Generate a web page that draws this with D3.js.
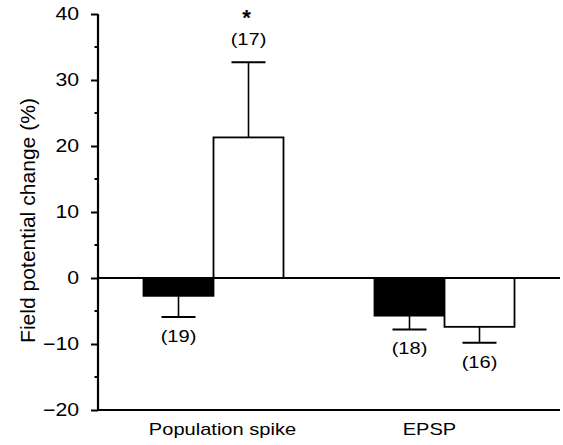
<!DOCTYPE html>
<html>
<head>
<meta charset="utf-8">
<script src="https://d3js.org/d3.v7.min.js"></script>
<style>
  body { margin: 0; background: #fff; }
  text { font-family: "Liberation Sans", Arial, Helvetica, sans-serif; fill: #000; }
</style>
</head>
<body>
<script>
// data
var categories = ["Population spike", "EPSP"];
var series = ["control", "treated"];
var controlMean = [-2.7, -5.7];
var controlErr = [3.2, 2.1];
var controlN = [19, 18];
var treatedMean = [21.3, -7.4];
var treatedErr = [11.4, 2.4];
var treatedN = [17, 16];
var significant = [true, false]; // asterisk over treated bar
var yTicks = [-20, -10, 0, 10, 20, 30, 40];
var yMinor = [-15, -5, 5, 15, 25, 35];

var W = 563, H = 445;
var plotLeft = 98, plotRight = 560, plotTop = 14, plotBottom = 410;
var stretch = 1.18; // figure text looks wide

var rows = [];
categories.forEach(function(c, i) {
  rows.push({cat: c, s: "control", v: controlMean[i], e: controlErr[i], n: controlN[i], star: false});
  rows.push({cat: c, s: "treated", v: treatedMean[i], e: treatedErr[i], n: treatedN[i], star: significant[i]});
});

var svg = d3.select("body").append("svg")
  .attr("width", W).attr("height", H);

var x = d3.scalePoint().domain(categories).range([plotLeft, plotRight]).padding(0.5);
var xs = d3.scaleBand().domain(series).range([-70, 70]);
var y = d3.scaleLinear().domain([-20, 40]).range([plotBottom, plotTop]);

// bars
var g = svg.append("g");
g.selectAll("rect").data(rows).enter().append("rect")
  .attr("x", d => x(d.cat) + xs(d.s))
  .attr("width", xs.bandwidth())
  .attr("y", d => Math.min(y(d.v), y(0)))
  .attr("height", d => Math.abs(y(d.v) - y(0)))
  .attr("fill", d => d.s == "control" ? "#000" : "#fff")
  .attr("stroke", "#000").attr("stroke-width", 1.8);

// error bars (one-sided, away from zero)
var tip = d => d.v >= 0 ? d.v + d.e : d.v - d.e;
var cx = d => x(d.cat) + xs(d.s) + xs.bandwidth() / 2;
g.selectAll(".err").data(rows).enter().append("line")
  .attr("x1", cx).attr("x2", cx)
  .attr("y1", d => y(d.v)).attr("y2", d => y(tip(d)))
  .attr("stroke", "#000").attr("stroke-width", 1.6);
g.selectAll(".cap").data(rows).enter().append("line")
  .attr("x1", d => cx(d) - 17).attr("x2", d => cx(d) + 17)
  .attr("y1", d => y(tip(d))).attr("y2", d => y(tip(d)))
  .attr("stroke", "#000").attr("stroke-width", 2);

// n labels
g.selectAll(".n").data(rows).enter().append("text")
  .attr("class", "h")
  .attr("x", cx)
  .attr("y", d => d.v >= 0 ? y(tip(d)) - 17 : y(tip(d)) + 25)
  .attr("text-anchor", "middle")
  .style("font-size", "17px")
  .text(d => "(" + d.n + ")");

g.selectAll(".star").data(rows.filter(d => d.star)).enter().append("text")
  .attr("x", d => cx(d) - 2)
  .attr("y", d => y(tip(d)) - 37)
  .attr("text-anchor", "middle")
  .style("font-size", "22px").style("font-weight", "bold")
  .text("*");

// zero line
svg.append("line")
  .attr("x1", plotLeft).attr("x2", plotRight)
  .attr("y1", y(0)).attr("y2", y(0))
  .attr("stroke", "#000").attr("stroke-width", 2);

// y axis
var yAxis = svg.append("g")
  .attr("transform", "translate(" + plotLeft + ",0)")
  .call(d3.axisLeft(y).tickValues(yTicks).tickSize(7).tickPadding(12));
yAxis.select(".domain").remove();
yAxis.selectAll(".tick line").attr("stroke-width", 2);
yAxis.selectAll(".tick text").attr("class", "h")
  .style("font-size", "18px").attr("font-family", null);
yAxis.selectAll(".minor").data(yMinor).enter().append("line")
  .attr("x1", -3.5).attr("x2", 0)
  .attr("y1", d => y(d)).attr("y2", d => y(d))
  .attr("stroke", "#000").attr("stroke-width", 2);

svg.append("path")
  .attr("d", "M" + plotLeft + "," + y(40) + "V" + plotBottom + "H" + plotRight)
  .attr("fill", "none").attr("stroke", "#000").attr("stroke-width", 2.2);

// x category labels
var labelShift = [9, -15];
svg.selectAll(".cat").data(categories).enter().append("text")
  .attr("class", "h")
  .attr("x", (d, i) => x(d) + labelShift[i])
  .attr("y", 435)
  .attr("text-anchor", "middle")
  .style("font-size", "17px")
  .text(d => d);

// y title
svg.append("text")
  .attr("transform", "translate(35," + (98 + 343) / 2 + ") rotate(-90)")
  .attr("text-anchor", "middle")
  .style("font-size", "20px")
  .attr("textLength", 245).attr("lengthAdjust", "spacingAndGlyphs")
  .text("Field potential change (%)");

// widen horizontal text like the printed figure
svg.selectAll("text.h").each(function() {
  var len = this.getComputedTextLength();
  d3.select(this).attr("textLength", len * stretch).attr("lengthAdjust", "spacingAndGlyphs");
});
</script>
</body>
</html>
